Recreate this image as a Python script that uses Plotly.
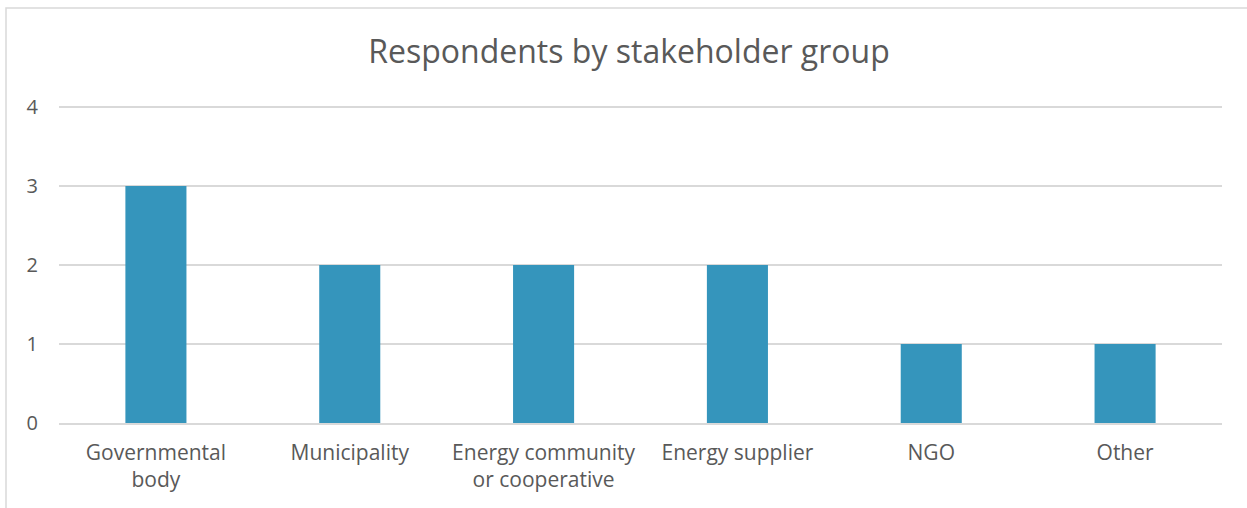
import plotly.graph_objects as go

categories = ["Governmental<br>body", "Municipality", "Energy community<br>or cooperative",
              "Energy supplier", "NGO", "Other"]
values = [3, 2, 2, 2, 1, 1]
y_ticks = [0, 1, 2, 3, 4]

W, H = 1247, 508
L, R, T, B = 59, W - 1222, 100, H - 423

fig = go.Figure(go.Bar(x=categories, y=values, marker=dict(color="#3595BC", line=dict(width=0))))

fig.update_layout(
    width=W, height=H,
    margin=dict(l=L, r=R, t=T, b=B, pad=0),
    paper_bgcolor="white", plot_bgcolor="white",
    bargap=0.685,
    font=dict(family="Open Sans, Noto Sans, sans-serif", color="#595959", size=20),
    title=dict(text="Respondents by stakeholder group", xref="container", x=629 / W, xanchor="center",
               y=1 - 52 / H, yanchor="middle",
               font=dict(size=32, color="#595959")),
    showlegend=False,
)
fig.update_yaxes(range=[0, 4 + 7 / 79], tickvals=y_ticks, showgrid=True, gridcolor="#d9d9d9", gridwidth=1.5,
                 zeroline=False, showline=False, ticks="", ticklabelstandoff=20,
                 tickfont=dict(size=20))
fig.update_xaxes(showline=True, linecolor="#d9d9d9", linewidth=1.5, ticks="",
                 ticklabelstandoff=10, tickfont=dict(size=21))

# chart border (top and left visible)
fig.add_shape(type="rect", xref="paper", yref="paper",
              x0=(6 - L) / (W - L - R), x1=(W + 20 - L) / (W - L - R),
              y0=-(B + 20) / (H - T - B),
              y1=(H - 8 - B) / (H - T - B),
              line=dict(color="#d9d9d9", width=1.5), fillcolor="rgba(0,0,0,0)", layer="below")

fig.write_html("out.html", config={"displayModeBar": False},
               post_script="document.body.style.margin='0';document.body.style.overflow='hidden';")
